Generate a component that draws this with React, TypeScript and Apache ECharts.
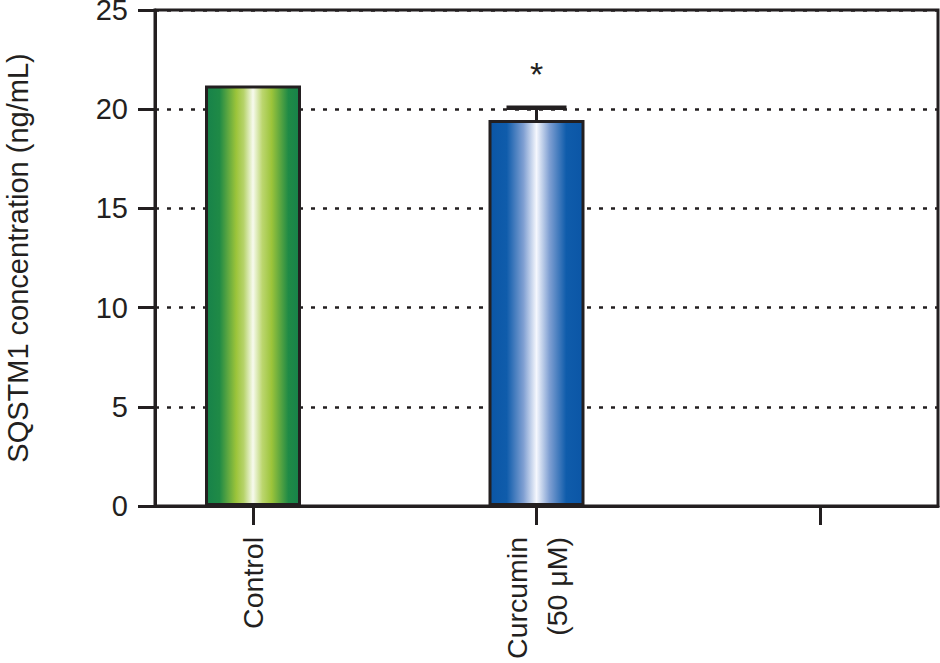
import React, { useEffect, useRef } from "react";
import * as echarts from "echarts";

const categories = ["Control", "Curcumin\n(50 μM)", ""];
const positions = [1, 2, 3];
const meanValues = [21.2, 19.45];
const errorUpper = [null, 20.07];
const significance = ["", "*"];
const yTicks = [0, 5, 10, 15, 20, 25];

const INK = "#231f20";
const FONT = "'Liberation Sans', Arial, Helvetica, sans-serif";

const greenGradient = () =>
  new echarts.graphic.LinearGradient(0, 0, 1, 0, [
    { offset: 0, color: "#17824a" },
    { offset: 0.14, color: "#1f8a46" },
    { offset: 0.32, color: "#9cc43a" },
    { offset: 0.4, color: "#b6d36a" },
    { offset: 0.5, color: "#f7faee" },
    { offset: 0.6, color: "#bcd66f" },
    { offset: 0.7, color: "#9cc43a" },
    { offset: 0.88, color: "#1f8a46" },
    { offset: 1, color: "#17824a" },
  ]);

const blueGradient = () =>
  new echarts.graphic.LinearGradient(0, 0, 1, 0, [
    { offset: 0, color: "#0b56a6" },
    { offset: 0.18, color: "#0f5cab" },
    { offset: 0.36, color: "#7f9fd2" },
    { offset: 0.5, color: "#f5f7fd" },
    { offset: 0.64, color: "#7f9fd2" },
    { offset: 0.82, color: "#0f5cab" },
    { offset: 1, color: "#0b56a6" },
  ]);

export default function App() {
  const ref = useRef<HTMLDivElement>(null);

  useEffect(() => {
    if (!ref.current) return;
    const chart = echarts.init(ref.current, null, { renderer: "svg" });
    const gradients = [greenGradient(), blueGradient()];

    const barData = meanValues.map((v, i) => ({
      value: [positions[i], v],
      itemStyle: { color: gradients[i] },
    }));

    const errData = meanValues
      .map((v, i) => (errorUpper[i] == null ? null : [positions[i], v, errorUpper[i], i]))
      .filter((d) => d !== null);

    chart.setOption({
      animation: false,
      backgroundColor: "#ffffff",
      grid: {
        left: 155,
        right: 2,
        top: 10,
        bottom: 157,
        outerBoundsMode: "none",
        containLabel: false,
        show: true,
        borderColor: INK,
        borderWidth: 3,
        backgroundColor: "transparent",
      },
      xAxis: {
        type: "value",
        min: 1 - 98 / 283.5,
        max: 3 + 118 / 283.5,
        axisLine: { show: true, onZero: false, lineStyle: { color: INK, width: 3 } },
        axisTick: {
          show: true,
          customValues: positions,
          length: 19,
          lineStyle: { color: INK, width: 3 },
        },
        axisLabel: {
          show: true,
          customValues: positions,
          rotate: 90,
          margin: 31,
          fontSize: 28.5,
          lineHeight: 40,
          fontFamily: FONT,
          color: INK,
          formatter: (val: number) => {
            const idx = positions.indexOf(Math.round(val));
            return idx >= 0 ? categories[idx] : "";
          },
        },
        splitLine: { show: false },
      },
      yAxis: {
        type: "value",
        min: 0,
        max: 25,
        interval: 5,
        name: "SQSTM1 concentration (ng/mL)",
        nameLocation: "middle",
        nameGap: 123,
        nameTextStyle: { fontSize: 29, fontFamily: FONT, color: INK },
        axisLine: { show: true, lineStyle: { color: INK, width: 3 } },
        axisTick: { show: true, length: 17, lineStyle: { color: INK, width: 3 } },
        axisLabel: {
          margin: 27,
          fontSize: 29,
          fontFamily: FONT,
          color: INK,
          customValues: yTicks,
        },
        splitLine: {
          show: true,
          lineStyle: { color: INK, width: 2.5, type: [4, 8] },
        },
      },
      series: [
        {
          type: "bar",
          data: barData,
          barWidth: 96,
          itemStyle: { borderColor: INK, borderWidth: 3 },
          z: 3,
        },
        {
          type: "custom",
          data: errData,
          z: 4,
          renderItem: (params: any, api: any) => {
            const x = api.value(0);
            const mean = api.value(1);
            const hi = api.value(2);
            const idx = api.value(3);
            const pMean = api.coord([x, mean]);
            const pHi = api.coord([x, hi]);
            const capHalf = 30;
            return {
              type: "group",
              children: [
                {
                  type: "line",
                  shape: { x1: pMean[0], y1: pMean[1], x2: pHi[0], y2: pHi[1] },
                  style: { stroke: INK, lineWidth: 3 },
                },
                {
                  type: "line",
                  shape: { x1: pHi[0] - capHalf, y1: pHi[1], x2: pHi[0] + capHalf, y2: pHi[1] },
                  style: { stroke: INK, lineWidth: 4.5 },
                },
                {
                  type: "text",
                  style: {
                    text: significance[idx],
                    x: pHi[0],
                    y: pHi[1] - 34,
                    align: "center",
                    verticalAlign: "middle",
                    fontSize: 34,
                    fontFamily: FONT,
                    fill: INK,
                  },
                },
              ],
            };
          },
        },
      ],
    });

    return () => chart.dispose();
  }, []);

  return <div ref={ref} style={{ width: 940, height: 663, position: "absolute", left: 0, top: 0 }} />;
}
